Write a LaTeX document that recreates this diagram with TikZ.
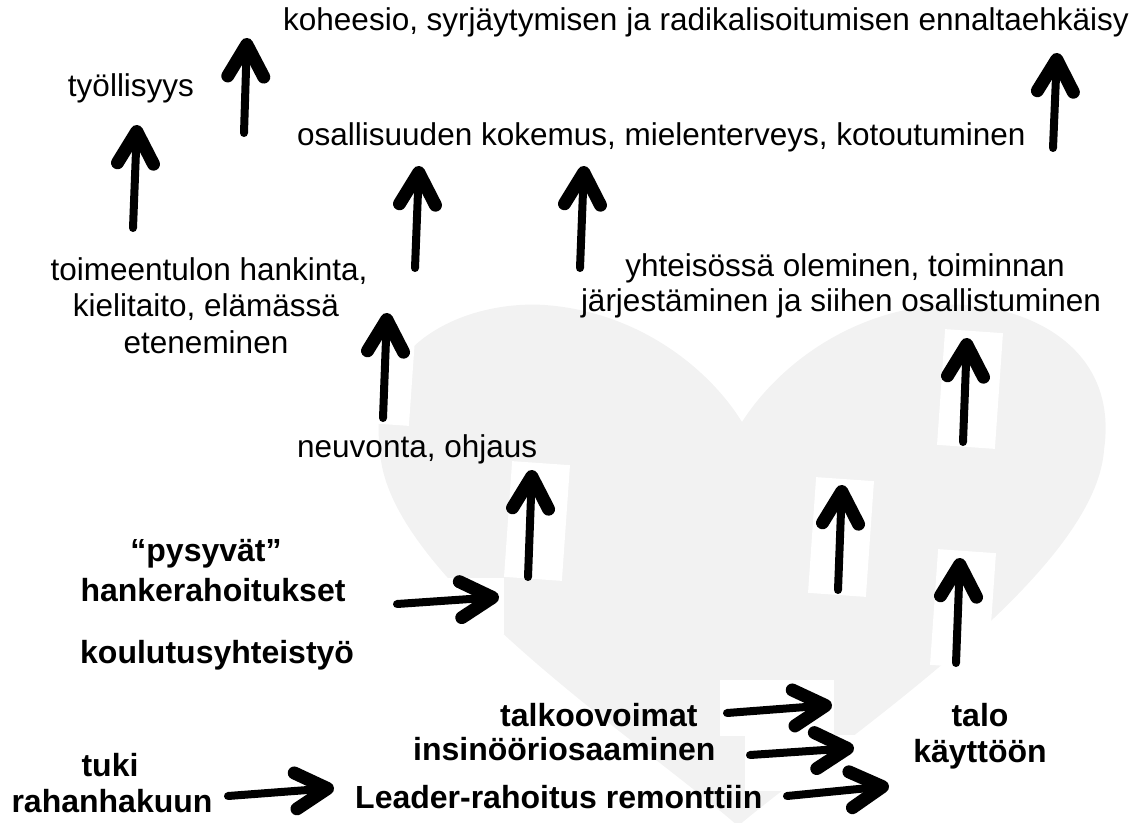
\documentclass[tikz,border=0pt]{standalone}
\usepackage{fontspec}
\setmainfont{Liberation Sans}
\usetikzlibrary{arrows.meta}
\definecolor{heartgray}{HTML}{F2F2F2}
\begin{document}
\begin{tikzpicture}[x=1pt,y=-1pt,
  reg/.style={font=\fontsize{31.5}{36}\selectfont, inner sep=0pt},
  bld/.style={font=\fontsize{32}{37}\selectfont\bfseries, inner sep=0pt},
  wbox/.style={fill=white, draw=none, inner sep=0pt},
  upbox/.style={wbox, minimum width=58pt, minimum height=116pt, rotate=-4},
  rbox/.style={wbox, minimum width=114pt, minimum height=56pt},
  handarrow/.style={line width=8pt, line cap=round,
    -{Straight Barb[length=32pt,width=36pt,line width=13pt,round]}}
]
\useasboundingbox (0,0) rectangle (1135,822);
\begin{scope}
\clip (0,0) rectangle (1135,822);
\fill[heartgray] (738,826) .. controls (640,740) and (385,575) .. (380,450)
  .. controls (365,340) and (470,300) .. (545,305)
  .. controls (640,312) and (710,370) .. (742,422)
  .. controls (775,370) and (845,312) .. (940,305)
  .. controls (1015,300) and (1120,340) .. (1104,450)
  .. controls (1095,575) and (840,740) .. (738,826) -- cycle;
\end{scope}

% white backgrounds of the hand-drawn arrows
\node[upbox] (ba) at (245,86) {};
\node[upbox] (bb) at (135,177) {};
\node[upbox] (bc) at (417,218) {};
\node[upbox] (bd) at (582,218) {};
\node[upbox] (be) at (1055,101) {};
\node[upbox] (bf) at (384,366) {};
\node[upbox] (bg) at (537,521) {};
\node[upbox] (bh) at (970,389) {};
\node[upbox] (bi) at (841,537) {};
\node[upbox] (bj) at (963,609) {};
\node[rbox] (bk) at (447,606) {};
\node[rbox] (bl) at (777,708) {};
\node[rbox] (bm) at (802,763) {};

% arrow end points
\coordinate (a0) at (244,133); \coordinate (a1) at (247,38);
\coordinate (b0) at (133,228); \coordinate (b1) at (137,125);
\coordinate (c0) at (415,268); \coordinate (c1) at (419,166);
\coordinate (d0) at (580,268); \coordinate (d1) at (584,166);
\coordinate (e0) at (1053,148); \coordinate (e1) at (1057,53);
\coordinate (f0) at (383,418); \coordinate (f1) at (387,313);
\coordinate (g0) at (528,577); \coordinate (g1) at (532,470);
\coordinate (h0) at (963,442); \coordinate (h1) at (967,338);
\coordinate (i0) at (838,590); \coordinate (i1) at (842,485);
\coordinate (j0) at (956,663); \coordinate (j1) at (960,558);
\coordinate (k0) at (397,604); \coordinate (k1) at (499,597);
\coordinate (l0) at (727,713); \coordinate (l1) at (832,705);
\coordinate (m0) at (750,755); \coordinate (m1) at (854,748);
\coordinate (n0) at (787,796); \coordinate (n1) at (889,786);
\coordinate (o0) at (228,796); \coordinate (o1) at (334,788);

\foreach \p in {a,b,c,d,e,f,g,h,i,j,k,l,m,n,o}
  \draw[handarrow] (\p0) -- (\p1);

% texts
\node[reg, anchor=base west] (t1) at (283,30) {koheesio, syrjäytymisen ja radikalisoitumisen ennaltaehkäisy};
\node[reg, anchor=base] (t2) at (131,96) {työllisyys};
\node[reg, anchor=base west] (t3) at (297,145) {osallisuuden kokemus, mielenterveys, kotoutuminen};
\node[reg, anchor=base] (t4a) at (209,280) {toimeentulon hankinta,};
\node[reg, anchor=base] (t4b) at (206,316) {kielitaito, elämässä};
\node[reg, anchor=base] (t4c) at (206,353) {eteneminen};
\node[reg, anchor=base] (t5a) at (845,276) {yhteisössä oleminen, toiminnan};
\node[reg, anchor=base] (t5b) at (841,311) {järjestäminen ja siihen osallistuminen};
\node[reg, anchor=base west] (t6) at (297,457) {neuvonta, ohjaus};
\node[bld, anchor=base] (t7a) at (206,561) {“pysyvät”};
\node[bld, anchor=base] (t7b) at (213,601) {hankerahoitukset};
\node[bld, anchor=base west] (t8) at (80,663) {koulutusyhteistyö};
\node[bld, anchor=base west] (t9a) at (500,726) {talkoovoimat};
\node[bld, anchor=base west] (t9b) at (413,760) {insinööriosaaminen};
\node[bld, anchor=base] (t10a) at (980,726) {talo};
\node[bld, anchor=base] (t10b) at (980,762) {käyttöön};
\node[bld, anchor=base] (t11a) at (110,776) {tuki};
\node[bld, anchor=base] (t11b) at (112,812) {rahanhakuun};
\node[bld, anchor=base west] (t12) at (355,808) {Leader-rahoitus remonttiin};
\end{tikzpicture}
\end{document}
